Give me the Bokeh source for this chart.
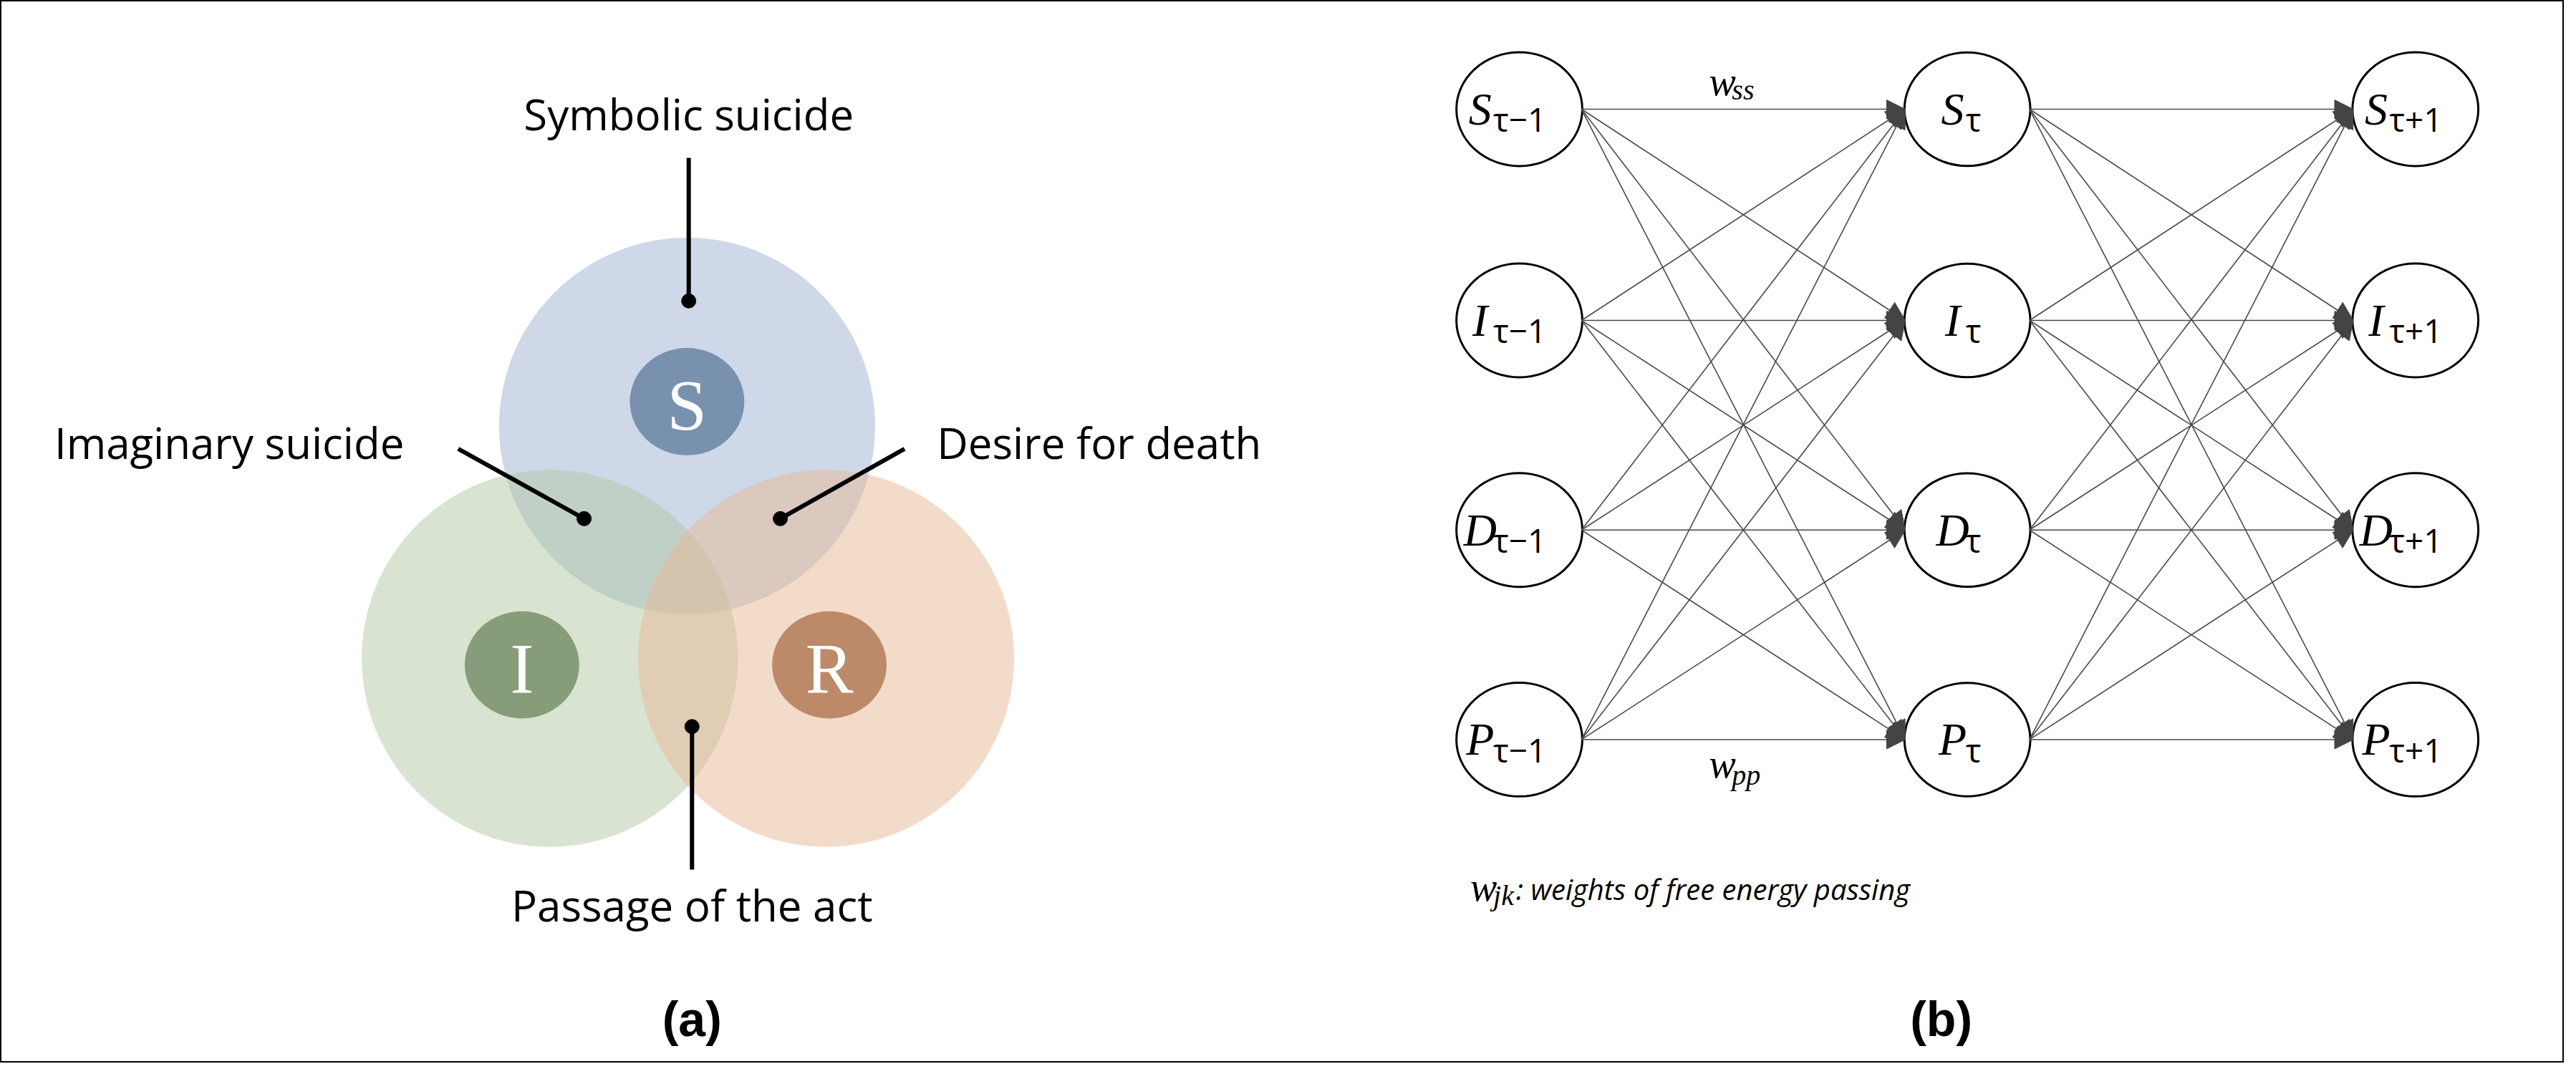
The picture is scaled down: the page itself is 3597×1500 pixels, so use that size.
from bokeh.plotting import figure
from bokeh.models import ColumnDataSource, Range1d, Arrow, NormalHead
from bokeh.core.properties import value
from bokeh.embed import file_html
from bokeh.resources import INLINE

# panel (a): rings of the Borromean-like diagram
ring_names = ["S", "I", "R"]
ring_x = [420, 336, 505]
ring_y = [262, 405, 405]
ring_colors = ["#9fb1d2", "#b3c7a4", "#e8b896"]
badge_x = [420, 319, 507]
badge_y = [247, 409, 409]
badge_colors = ["#7891ae", "#879c78", "#bc8a69"]

callout_text = ["Symbolic suicide", "Imaginary suicide", "Desire for death", "Passage of the act"]
callout_tx = [421, 140, 672, 423]
callout_ty = [70, 272, 272, 557]
callout_x0 = [421, 280, 553, 423]
callout_y0 = [97, 276, 276, 535]
callout_x1 = [421, 357, 477, 423]
callout_y1 = [185, 319, 319, 447]

# panel (b): layered network
node_letters = ["S", "I", "D", "P"]
layer_x = [929, 1203, 1477]
layer_sub = ["\u03c4\u22121", "\u03c4", "\u03c4+1"]
row_y = [67, 197, 326, 455]

W, H = 1568, 654
p = figure(width=3580, height=1484, x_range=Range1d(0, W), y_range=Range1d(H, 0),
           output_backend="svg", toolbar_location=None, min_border=0)
p.axis.visible = False
p.grid.visible = False
p.outline_line_color = "black"
p.outline_line_width = 3

# rings
p.ellipse(x=ring_x, y=ring_y, width=230, height=232, fill_color=ring_colors,
          fill_alpha=0.5, line_color=None)
p.ellipse(x=badge_x, y=badge_y, width=70, height=66, fill_color=badge_colors, line_color=None)
p.text(x=badge_x, y=[y + 2 for y in badge_y], text=ring_names, text_align="center", text_baseline="middle",
       text_font=value("Liberation Serif"), text_font_size="100px", text_color="white")

# callouts
p.segment(x0=callout_x0, y0=callout_y0, x1=callout_x1, y1=callout_y1, line_color="black", line_width=6)
p.scatter(x=callout_x1, y=callout_y1, size=20, color="black")
p.text(x=callout_tx, y=callout_ty, text=callout_text, text_align="center", text_baseline="middle",
       text_font=value("Open Sans"), text_font_size="60px", text_color="black")

# network edges
xs0, ys0, xs1, ys1 = [], [], [], []
rx = 38
for li in range(len(layer_x) - 1):
    for ya in row_y:
        for yb in row_y:
            xs0.append(layer_x[li] + rx)
            ys0.append(ya)
            xs1.append(layer_x[li + 1] - rx)
            ys1.append(yb)
edges = ColumnDataSource(dict(x0=xs0, y0=ys0, x1=xs1, y1=ys1))
p.add_layout(Arrow(end=NormalHead(size=26, fill_color="#444444", line_color="#444444"),
                   x_start="x0", y_start="y0", x_end="x1", y_end="y1", source=edges,
                   line_color="#4a4a4a", line_width=1.6))

# nodes
nx, ny, letters, subs, lx, sx = [], [], [], [], [], []
for li, x in enumerate(layer_x):
    for ri, y in enumerate(row_y):
        nx.append(x)
        ny.append(y)
        letters.append(node_letters[ri])
        subs.append(layer_sub[li])
        off = 9 if li == 1 else 24
        lx.append(x - off)
        sx.append(x - off + 8)
p.ellipse(x=nx, y=ny, width=77, height=70, fill_color="white", line_color="black", line_width=3)
p.text(x=lx, y=ny, text=letters, text_align="center", text_baseline="middle",
       text_font=value("Liberation Serif"), text_font_style="italic", text_font_size="64px")
p.text(x=sx, y=[y + 6 for y in ny], text=subs, text_align="left", text_baseline="middle",
       text_font=value("Open Sans"), text_font_size="46px")

# weight labels
p.text(x=[1045, 1045], y=[50, 470], text=["w", "w"], text_align="left", text_baseline="middle",
       text_font=value("Liberation Serif"), text_font_style="italic", text_font_size="56px")
p.text(x=[1059, 1059], y=[55, 477], text=["ss", "pp"], text_align="left", text_baseline="middle",
       text_font=value("Liberation Serif"), text_font_style="italic", text_font_size="40px")
p.text(x=[899], y=[546], text=["w"], text_align="left", text_baseline="middle",
       text_font=value("Liberation Serif"), text_font_style="italic", text_font_size="56px")
p.text(x=[913], y=[551], text=["jk"], text_align="left", text_baseline="middle",
       text_font=value("Liberation Serif"), text_font_style="italic", text_font_size="40px")
p.text(x=[927], y=[547], text=[": weights of free energy passing"], text_align="left", text_baseline="middle",
       text_font=value("Open Sans"), text_font_style="italic", text_font_size="40px")

# panel labels
p.text(x=[423, 1187], y=[627, 627], text=["(a)", "(b)"], text_align="center", text_baseline="middle",
       text_font=value("Liberation Sans"), text_font_style="bold", text_font_size="68px")

open("out.html", "w").write(file_html(p, INLINE))
